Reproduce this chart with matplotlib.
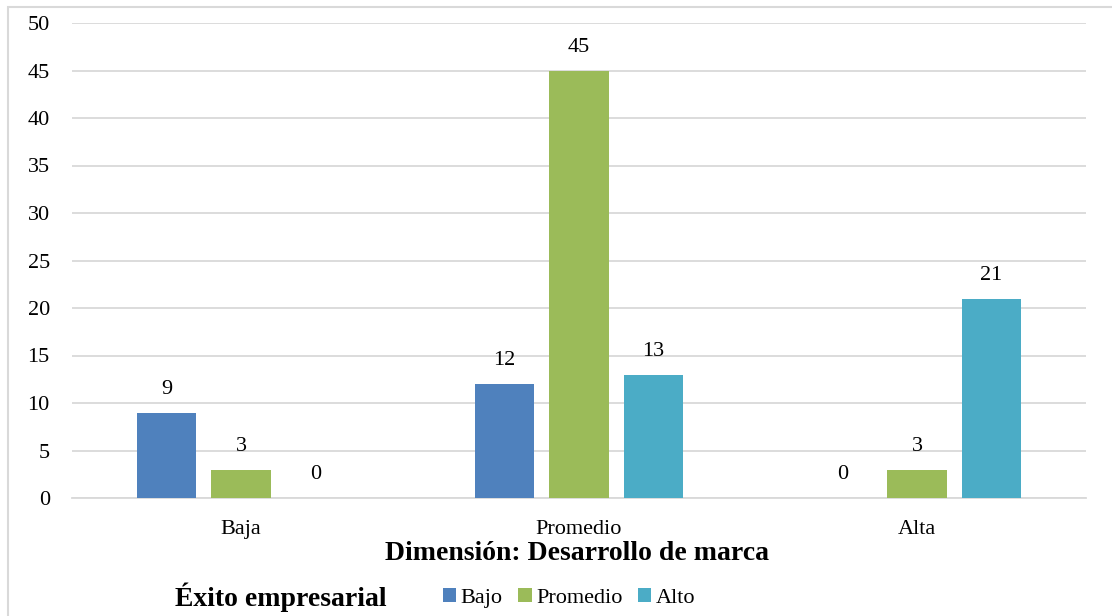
import matplotlib

matplotlib.use("Agg")
import matplotlib.pyplot as plt
import numpy as np
from matplotlib.patches import Rectangle

categories = ["Baja", "Promedio", "Alta"]
series_names = ["Bajo", "Promedio", "Alto"]
bajo = [9, 12, 0]
promedio = [3, 45, 3]
alto = [0, 13, 21]
y_ticks = [0, 5, 10, 15, 20, 25, 30, 35, 40, 45, 50]

COLORS = ["#4F81BD", "#9BBB59", "#4BACC6"]
GRID = "#D9D9D9"
SERIF = ["Liberation Serif", "DejaVu Serif"]

plt.rcParams["font.family"] = SERIF

fig = plt.figure(figsize=(11.12, 6.16), dpi=100)
ax = fig.add_axes([72 / 1112, 1 - 498 / 616, (1086 - 72) / 1112, (498 - 23) / 616])

x = np.arange(len(categories))
width = 0.175
step = 0.22
bars = []
for i, (name, vals) in enumerate(zip(series_names, [bajo, promedio, alto])):
    b = ax.bar(x + (i - 1) * step, vals, width=width, color=COLORS[i], label=name, zorder=3)
    bars.append(b)
    for xi, v in zip(x + (i - 1) * step, vals):
        ax.annotate(str(v), (xi, v), xytext=(0, 10), textcoords="offset points",
                    ha="center", va="bottom", fontsize=16, color="#000000")

ax.set_xlim(-0.5, 2.5)
ax.set_ylim(0, 50)
ax.set_yticks(y_ticks)
ax.set_xticks(x)
ax.set_xticklabels(categories)
ax.tick_params(axis="both", length=0, labelsize=16, colors="#000000")
ax.tick_params(axis="y", pad=16)
ax.tick_params(axis="x", pad=16)
ax.grid(axis="y", color=GRID, linewidth=1.3, zorder=0)
for side in ["top", "right", "left"]:
    ax.spines[side].set_visible(False)
ax.spines["bottom"].set_color(GRID)
ax.spines["bottom"].set_linewidth(1.3)

fig.text(577 / 1112, 1 - 553 / 616, "Dimensión: Desarrollo de marca", ha="center", va="center",
         fontsize=20, fontweight="bold")
fig.text(175 / 1112, 1 - 597 / 616, "Éxito empresarial", ha="left", va="center",
         fontsize=20, fontweight="bold")
fig.legend(handles=bars, labels=series_names, loc="center left",
           bbox_to_anchor=(434 / 1112, 1 - 598 / 616), ncol=3, frameon=False,
           fontsize=16, handlelength=0.6, handleheight=0.6, handletextpad=0.2,
           columnspacing=0.7, borderaxespad=0)

# outer chart border
fig.patches.append(Rectangle((8 / 1112, -0.1), 1.2, 1 - 7 / 616 + 0.1, transform=fig.transFigure,
                             fill=False, edgecolor=GRID, linewidth=1.5, zorder=0))

fig.savefig("out.png", dpi=100, facecolor="white")
